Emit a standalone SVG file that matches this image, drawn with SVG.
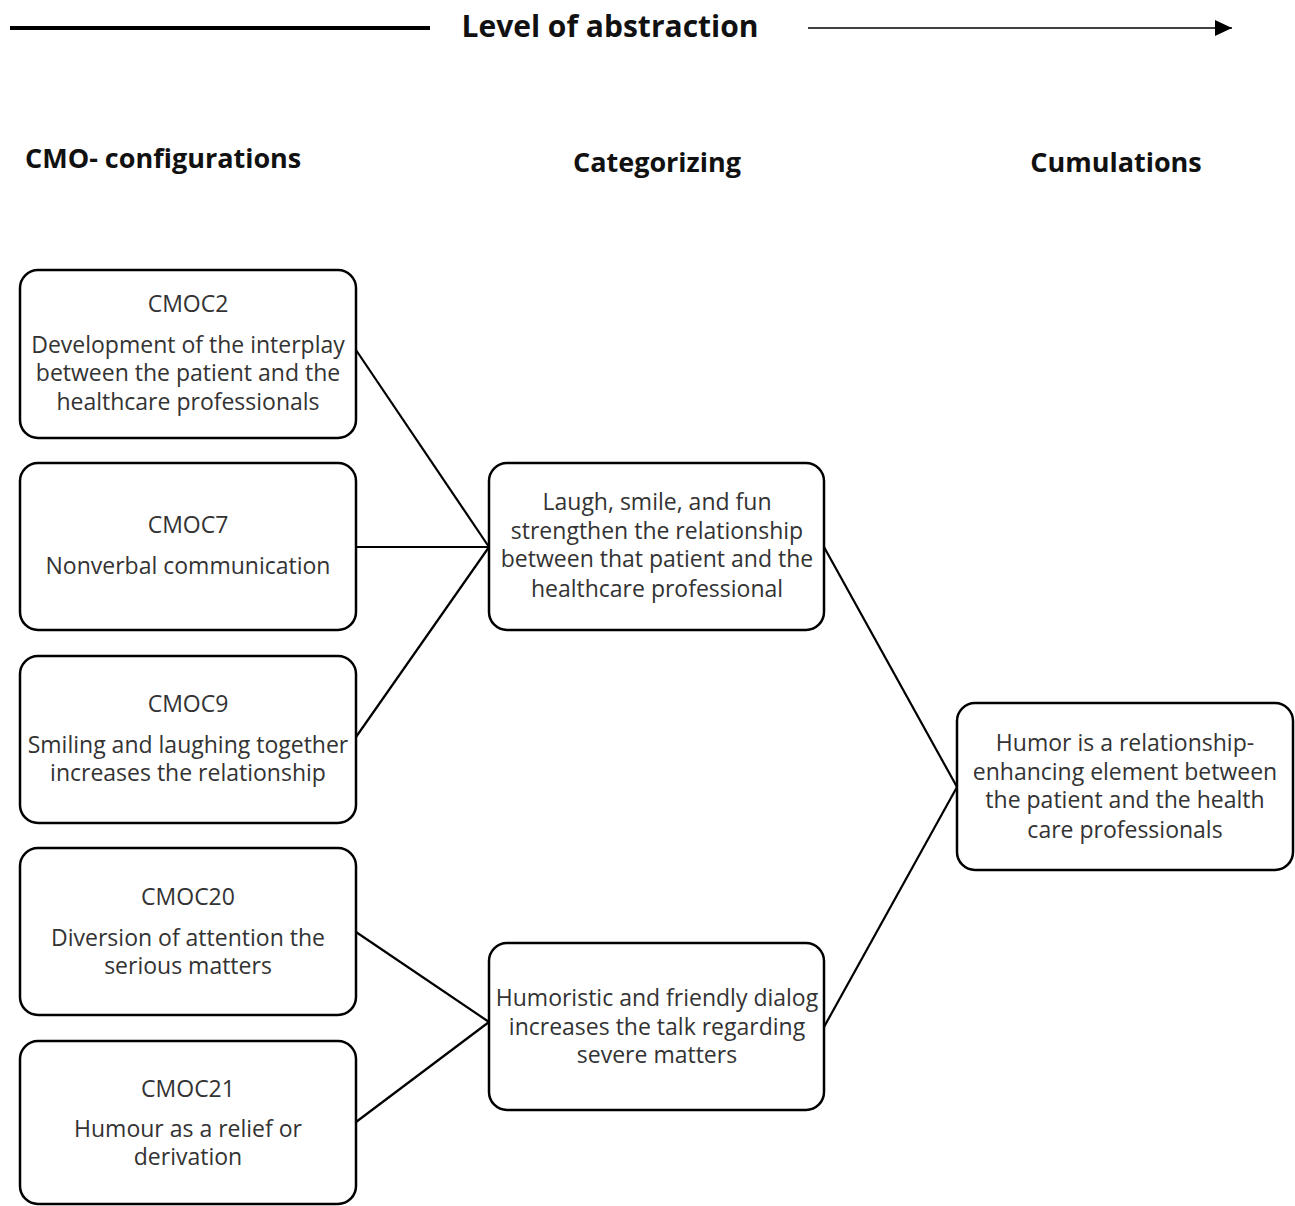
<svg xmlns="http://www.w3.org/2000/svg" width="1295" height="1206" viewBox="0 0 1295 1206">
<style>
.box{fill:#fff;stroke:#000;stroke-width:2.5}
.t{font-family:"Open Sans","Noto Sans",sans-serif;font-size:23px;fill:#333;text-anchor:middle}
.h{font-family:"Open Sans","Noto Sans",sans-serif;font-size:27px;font-weight:bold;fill:#111}
.c{stroke:#000;stroke-width:2.2;fill:none}
</style>
<defs>
<marker id="ah" markerWidth="17" markerHeight="16" refX="17" refY="8" orient="auto" markerUnits="userSpaceOnUse" viewBox="0 0 17 16">
<path d="M0,0 L17,8 L0,16 z" fill="#000"/>
</marker>
</defs>
<rect width="1295" height="1206" fill="#fff"/>
<g id="header">
<line x1="10" y1="28" x2="430" y2="28" stroke="#000" stroke-width="4"/>
<text x="610" y="37" class="h" text-anchor="middle" font-size="30" style="font-size:30px">Level of abstraction</text>
<line x1="808" y1="28" x2="1232" y2="28" stroke="#000" stroke-width="1.6" marker-end="url(#ah)"/>
<text x="25" y="168" class="h">CMO- configurations</text>
<text x="657" y="172" class="h" text-anchor="middle">Categorizing</text>
<text x="1116" y="172" class="h" text-anchor="middle">Cumulations</text>
</g>
<g id="connectors">
<line class="c" x1="356" y1="350" x2="489" y2="547"/>
<line class="c" x1="356" y1="547" x2="489" y2="547"/>
<line class="c" x1="356" y1="737" x2="489" y2="547"/>
<line class="c" x1="356" y1="932" x2="489" y2="1022"/>
<line class="c" x1="356" y1="1122" x2="489" y2="1022"/>
<line class="c" x1="824" y1="547" x2="957" y2="787"/>
<line class="c" x1="824" y1="1027" x2="957" y2="787"/>
</g>
<g id="cmoc2">
<rect class="box" x="20" y="270" width="336" height="168" rx="18"/>
<text class="t" x="188" y="312">CMOC2</text>
<text class="t" x="188" y="353">Development of the interplay</text>
<text class="t" x="188" y="381">between the patient and the</text>
<text class="t" x="188" y="410">healthcare professionals</text>
</g>
<g id="cmoc7">
<rect class="box" x="20" y="463" width="336" height="167" rx="18"/>
<text class="t" x="188" y="533">CMOC7</text>
<text class="t" x="188" y="574">Nonverbal communication</text>
</g>
<g id="cmoc9">
<rect class="box" x="20" y="656" width="336" height="167" rx="18"/>
<text class="t" x="188" y="712">CMOC9</text>
<text class="t" x="188" y="753">Smiling and laughing together</text>
<text class="t" x="188" y="781">increases the relationship</text>
</g>
<g id="cmoc20">
<rect class="box" x="20" y="848" width="336" height="167" rx="18"/>
<text class="t" x="188" y="905">CMOC20</text>
<text class="t" x="188" y="946">Diversion of attention the</text>
<text class="t" x="188" y="974">serious matters</text>
</g>
<g id="cmoc21">
<rect class="box" x="20" y="1041" width="336" height="163" rx="18"/>
<text class="t" x="188" y="1097">CMOC21</text>
<text class="t" x="188" y="1137">Humour as a relief or</text>
<text class="t" x="188" y="1165">derivation</text>
</g>
<g id="cat1">
<rect class="box" x="489" y="463" width="335" height="167" rx="18"/>
<text class="t" x="657" y="510">Laugh, smile, and fun</text>
<text class="t" x="657" y="539">strengthen the relationship</text>
<text class="t" x="657" y="567">between that patient and the</text>
<text class="t" x="657" y="597">healthcare professional</text>
</g>
<g id="cat2">
<rect class="box" x="489" y="943" width="335" height="167" rx="18"/>
<text class="t" x="657" y="1006">Humoristic and friendly dialog</text>
<text class="t" x="657" y="1035">increases the talk regarding</text>
<text class="t" x="657" y="1063">severe matters</text>
</g>
<g id="cum">
<rect class="box" x="957" y="703" width="336" height="167" rx="18"/>
<text class="t" x="1125" y="751">Humor is a relationship-</text>
<text class="t" x="1125" y="780">enhancing element between</text>
<text class="t" x="1125" y="808">the patient and the health</text>
<text class="t" x="1125" y="838">care professionals</text>
</g>
</svg>
